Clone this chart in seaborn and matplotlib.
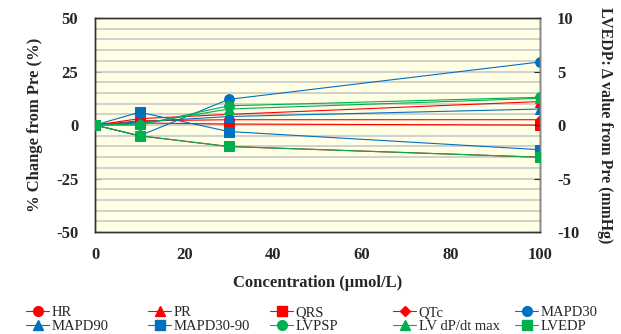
import matplotlib
matplotlib.use("Agg")
import matplotlib.pyplot as plt
import seaborn as sns
import pandas as pd
from matplotlib.lines import Line2D

sns.set_theme(style="white")
plt.rcParams['font.family'] = ['Liberation Serif', 'DejaVu Serif']
plt.rcParams['axes.unicode_minus'] = False

conc = [0, 10, 30, 100]
HR = [0, -5, -10, -15]
PR = [0, 3, 5, 11]
QRS = [0, 1, 0.5, 0]
QTc = [0, 2, 2.5, 2.5]
MAPD30 = [0, -5, 12, 29.5]
MAPD90 = [0, 1.5, 4, 7.5]
MAPD30_90 = [0, 6, -3, -11.5]
LVPSP = [0, 0, 9, 13]
LVdPdt = [0, 0.5, 7.5, 12.5]
LVEDP = [0, -1, -2, -3]  # mmHg, right axis

red, blue, green = "#FF0000", "#0070C0", "#00B050"
left_series = [
    ("HR", HR, red, "o"),
    ("PR", PR, red, "^"),
    ("QRS", QRS, red, "s"),
    ("QTc", QTc, red, "D"),
    ("MAPD30", MAPD30, blue, "o"),
    ("MAPD90", MAPD90, blue, "^"),
    ("MAPD30-90", MAPD30_90, blue, "s"),
    ("LVPSP", LVPSP, green, "o"),
    ("LV dP/dt max", LVdPdt, green, "^"),
]
right_series = [("LVEDP", LVEDP, green, "s")]

fig = plt.figure(figsize=(6.21, 3.34), dpi=100)
ax = fig.add_axes([0.153, 0.305, 0.717, 0.641])
ax.set_facecolor("#FFFFE6")
ax2 = ax.twinx()

MS = 7
handles = []
for name, vals, col, mk in left_series:
    ms = MS if mk != "D" else MS - 1.5
    sns.lineplot(x=conc, y=vals, ax=ax, color=col, marker=mk, markersize=ms,
                 markeredgecolor=col, linewidth=0.8, legend=False, zorder=3)
    handles.append(Line2D([], [], color=col, marker=mk, markersize=ms, lw=0.8, label=name))
for name, vals, col, mk in right_series:
    sns.lineplot(x=conc, y=vals, ax=ax2, color=col, marker=mk, markersize=MS,
                 markeredgecolor=col, linewidth=0.8, legend=False, zorder=3)
    handles.append(Line2D([], [], color=col, marker=mk, markersize=MS, lw=0.8, label=name))

ax.set_xlim(0, 100)
ax.set_ylim(-50, 50)
ax2.set_ylim(-10, 10)
ax.set_yticks([-50, -25, 0, 25, 50])
ax2.set_yticks([-10, -5, 0, 5, 10])
ax.set_xticks([0, 20, 40, 60, 80, 100])
ax.grid(False)
ax2.grid(False)
for yv in range(-45, 50, 5):
    ax.axhline(yv, color="#C8C8C8", lw=1.2, zorder=1)

for a in (ax, ax2):
    a.tick_params(direction="in", length=4, width=0.8)
for lbl in ax.get_xticklabels() + ax.get_yticklabels() + ax2.get_yticklabels():
    lbl.set_fontsize(12)
    lbl.set_fontweight("bold")
ax.tick_params(axis="y", pad=12)
ax2.tick_params(axis="y", pad=12)
ax.tick_params(axis="x", pad=11)

for s in ["left", "bottom", "top"]:
    ax.spines[s].set_color("#333333")
    ax2.spines[s].set_color("#333333")
ax2.spines["right"].set_color("#888888")
for a in (ax, ax2):
    for s in a.spines.values():
        s.set_linewidth(1.0)

ax.set_xlabel("Concentration (µmol/L)", fontsize=12, fontweight="bold", labelpad=8)
ax.set_ylabel("% Change from Pre (%)", fontsize=12, fontweight="bold", labelpad=9)
ax2.set_ylabel("LVEDP: Δ value from Pre (mmHg)", fontsize=11.4, fontweight="bold",
               rotation=270, labelpad=24)

# legend: 5 columns x 2 rows, fixed column positions
col_x = [26, 148, 270, 393, 515]
for c in range(5):
    fig.legend(handles=[handles[c], handles[c + 5]], loc="upper left",
               bbox_to_anchor=(col_x[c] / 621, 1 - 306 / 334),
               frameon=False, fontsize=10.5, handlelength=1.6,
               handletextpad=0.15, labelspacing=0.05, borderpad=0.0,
               borderaxespad=0.0)

fig.savefig("out.png", dpi=100)
